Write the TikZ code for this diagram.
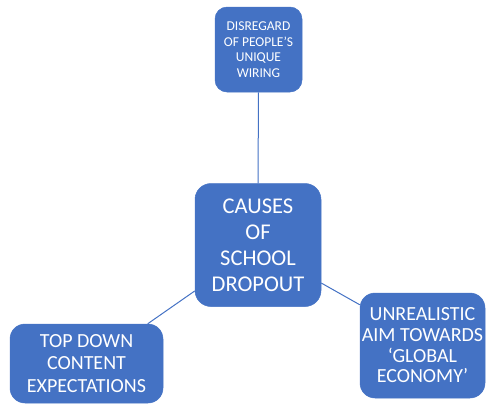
\documentclass[tikz,border=0pt]{standalone}
\usepackage{fontspec}
\setmainfont{Carlito}
\definecolor{boxblue}{HTML}{4472C4}
\definecolor{lineblue}{HTML}{4472C4}
\tikzset{
  causebox/.style={fill=boxblue, draw=boxblue, line width=0.5pt, rounded corners=#1, text=white, align=center, inner sep=0pt, anchor=center},
  causebox/.default=14pt,
  link/.style={draw=lineblue, line width=1pt}
}
\begin{document}
\begin{tikzpicture}[x=1pt, y=-1pt]
\useasboundingbox (0,0) rectangle (488,405);
\node[causebox=12pt, minimum width=87pt, minimum height=85pt,
      font=\fontsize{13.5}{15.5}\selectfont] (top) at (258.5,49.5)
  {DISREGARD\\OF PEOPLE’S\\UNIQUE\\WIRING};
\node[causebox=16pt, minimum width=126pt, minimum height=123pt,
      font=\fontsize{22.5}{26}\selectfont] (ctr) at (258,245)
  {CAUSES\\OF\\SCHOOL\\DROPOUT};
\node[causebox=15pt, minimum width=153pt, minimum height=79pt,
      font=\fontsize{20}{22.5}\selectfont] (lft) at (86.5,363.5)
  {TOP DOWN\\CONTENT\\EXPECTATIONS};
\node[causebox=15pt, minimum width=125pt, minimum height=105pt,
      font=\fontsize{20}{20.7}\selectfont] (rgt) at (422.5,345.5)
  {UNREALISTIC\\AIM TOWARDS\\‘GLOBAL\\ECONOMY’};
\draw[link] (top.south) -- (ctr.north);
\draw[link] (ctr.216.4) -- (lft.33.3);
\draw[link] (ctr.-31.6) -- (rgt.147.5);
\end{tikzpicture}
\end{document}
